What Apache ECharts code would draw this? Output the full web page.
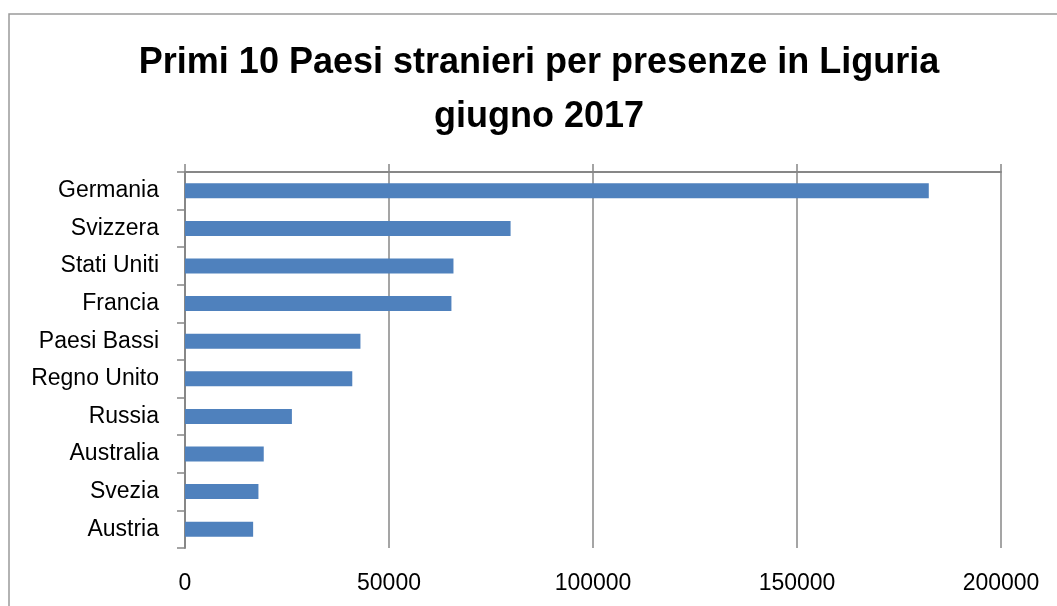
<!DOCTYPE html>
<html>
<head>
<meta charset="utf-8">
<script src="https://cdn.jsdelivr.net/npm/echarts@6/dist/echarts.min.js"></script>
<style>
html,body{margin:0;padding:0;background:#fff;}
#chart{width:1057px;height:606px;}
</style>
</head>
<body>
<div id="chart"></div>
<script>
const titleText = 'Primi 10 Paesi stranieri per presenze in Liguria\ngiugno 2017';
const categories = ['Germania','Svizzera','Stati Uniti','Francia','Paesi Bassi','Regno Unito','Russia','Australia','Svezia','Austria'];
const presenze = [182300, 79800, 65800, 65300, 43000, 41000, 26200, 19300, 18000, 16700];
const xMin = 0, xMax = 200000, xStep = 50000;

const chart = echarts.init(document.getElementById('chart'), null, {renderer:'canvas'});
const axisGray = '#878787';
const option = {
  animation:false,
  backgroundColor:'#ffffff',
  graphic:[{
    type:'rect', z:-1, silent:true,
    shape:{x:9, y:14, width:1100, height:700},
    style:{fill:'none', stroke:'#9a9a9a', lineWidth:1.5}
  }],
  title:{
    text:titleText,
    left:539, top:36, textAlign:'center', padding:0,
    textStyle:{fontFamily:'Liberation Sans', fontWeight:'bold', fontSize:36, lineHeight:54, color:'#000'}
  },
  grid:{left:185, right:56, top:172, bottom:58, containLabel:false},
  xAxis:[{
    type:'value', position:'bottom', min:xMin, max:xMax, interval:xStep,
    axisLine:{show:false}, axisTick:{show:false},
    axisLabel:{margin:24, fontFamily:'Liberation Sans', fontSize:23, color:'#000', formatter:v=>String(v)},
    splitLine:{show:true, lineStyle:{color:axisGray, width:1.5}}
  },{
    type:'value', position:'top', min:xMin, max:xMax, interval:xStep,
    axisLine:{show:true, lineStyle:{color:axisGray, width:2}},
    axisTick:{show:true, length:8, inside:false, lineStyle:{color:axisGray, width:1.5}},
    axisLabel:{show:false}, splitLine:{show:false}
  }],
  yAxis:{
    type:'category', data:categories, inverse:true, boundaryGap:true,
    axisLine:{show:true, lineStyle:{color:axisGray, width:2}},
    axisTick:{show:true, length:8, alignWithLabel:false, lineStyle:{color:axisGray, width:1.5}},
    axisLabel:{margin:26, fontFamily:'Liberation Sans', fontSize:23, color:'#000'}
  },
  series:[{
    type:'bar', data:presenze, xAxisIndex:0, barWidth:15,
    itemStyle:{color:'#4F81BD'}
  }]
};
chart.setOption(option);
</script>
</body>
</html>
